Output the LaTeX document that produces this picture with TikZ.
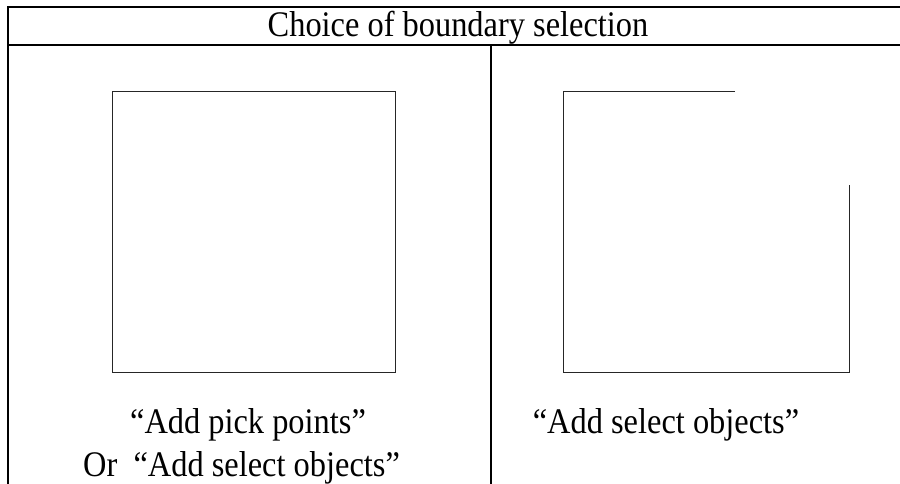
\documentclass[tikz,border=0pt]{standalone}
\usepackage{fontspec}
\setmainfont[FakeStretch=0.9]{Liberation Serif}
\tikzset{
  tbl/.style={line width=1.7bp, black},
  shp/.style={line width=1bp, black!85},
  lbl/.style={font=\fontsize{36bp}{40bp}\selectfont, inner sep=0pt, align=center}
}
\begin{document}
\begin{tikzpicture}[x=1bp,y=-1bp]
\useasboundingbox (0,0) rectangle (900,484);
% table frame
\draw[tbl] (8,484) -- (8,7) -- (900,7);
\draw[tbl] (8,45) -- (900,45);
\draw[tbl] (491,45) -- (491,484);
% header
\node[lbl, anchor=base] (head) at (458,37) {Choice of boundary selection};
% left square
\draw[shp] (112,92) rectangle (395,372);
% right open shape
\draw[shp] (735,92) -- (563,92) -- (563,372) -- (849,372) -- (849,185);
% captions
\node[lbl, anchor=base] (l1) at (248,433) {“Add pick points”};
\node[lbl, anchor=base west] (l2) at (83,476) {Or \ “Add select objects”};
\node[lbl, anchor=base] (r1) at (666,433) {“Add select objects”};
\end{tikzpicture}
\end{document}
